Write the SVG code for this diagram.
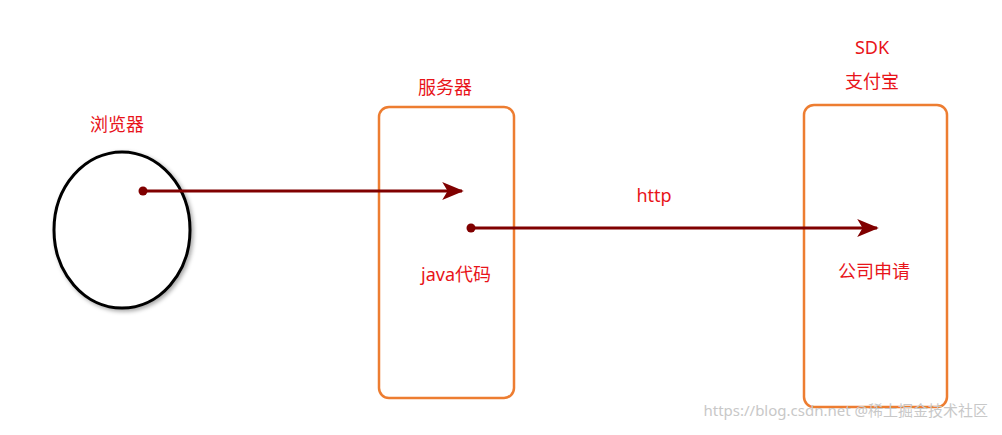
<svg xmlns="http://www.w3.org/2000/svg" width="1002" height="435" viewBox="0 0 1002 435">
<style>
.t{font-family:"Noto Sans","Noto Sans CJK SC",sans-serif;font-size:18px;fill:#e8141a;text-anchor:middle}
.box{fill:none;stroke:#ed7d31;stroke-width:2.5}
.c{stroke:#800000;stroke-width:3;fill:none}
</style>
<defs>
<marker id="ah" viewBox="0 0 12 10" refX="11" refY="5" markerWidth="9" markerHeight="6" orient="auto" markerUnits="strokeWidth"><path d="M0,0 L12,5 L0,10 L3,5 Z" fill="#800000"/></marker>
<filter id="sh"><feDropShadow dx="2" dy="2" stdDeviation="2" flood-opacity="0.35"/></filter>
</defs>
<rect width="1002" height="435" fill="#fff"/>
<g id="browser"><ellipse cx="122" cy="230" rx="68" ry="78" fill="#fff" stroke="#000" stroke-width="3" filter="url(#sh)"/><text class="t" x="117" y="131">浏览器</text></g>
<g id="server"><rect class="box" x="379" y="107" width="135" height="291" rx="10"/><text class="t" x="445" y="94">服务器</text><text class="t" x="456" y="281">java代码</text></g>
<g id="alipay"><rect class="box" x="804" y="105" width="143" height="302" rx="10"/><text class="t" x="872" y="54">SDK</text><text class="t" x="872" y="88">支付宝</text><text class="t" x="874" y="278">公司申请</text></g>
<g id="connectors">
<circle cx="143" cy="191" r="4.5" fill="#800000"/><line class="c" x1="143" y1="191" x2="462" y2="191" marker-end="url(#ah)"/>
<circle cx="471" cy="228" r="4.5" fill="#800000"/><line class="c" x1="471" y1="228" x2="877" y2="228" marker-end="url(#ah)"/>
<text class="t" x="654" y="202">http</text>
</g>
<text x="988" y="416" font-family="Noto Sans,Noto Sans CJK SC,sans-serif" font-size="15" fill="#c8c8c8" text-anchor="end">https://blog.csdn.net @稀土掘金技术社区</text>
</svg>
